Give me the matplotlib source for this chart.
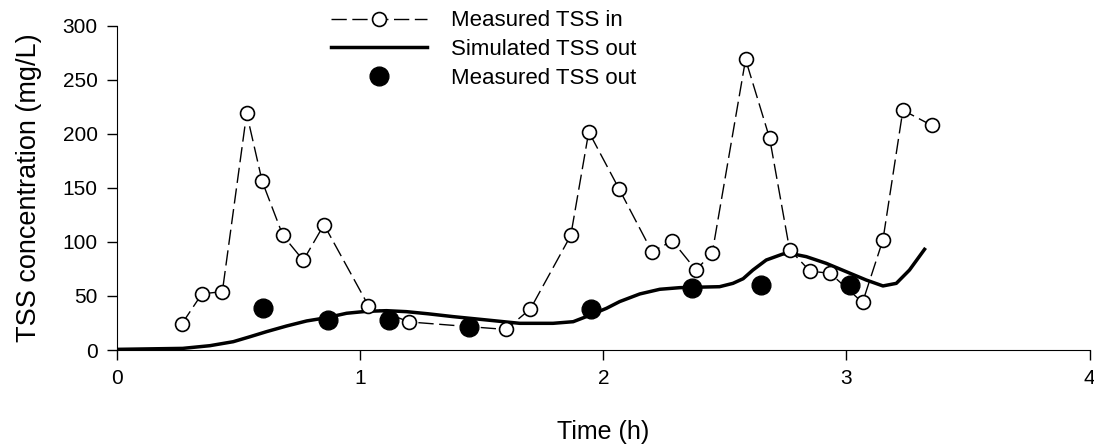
import matplotlib
matplotlib.use("Agg")
import matplotlib.pyplot as plt

plt.rcParams["font.family"] = ["Liberation Sans", "DejaVu Sans"]

# measured influent TSS
t_in = [0.266, 0.349, 0.433, 0.533, 0.597, 0.682, 0.766, 0.851, 1.034, 1.20,
        1.599, 1.70, 1.866, 1.94, 2.065, 2.20, 2.284, 2.381, 2.448, 2.585,
        2.684, 2.766, 2.85, 2.933, 3.066, 3.15, 3.232, 3.35]
tss_in = [24, 52, 54, 219, 156, 106, 83, 116, 41, 26,
          19, 38, 106, 202, 149, 91, 101, 74, 90, 269,
          196, 93, 73, 71, 44, 102, 222, 208]

# simulated effluent TSS
t_sim = [0.0, 0.27, 0.382, 0.478, 0.547, 0.615, 0.697, 0.78, 0.862, 0.944,
         1.026, 1.108, 1.19, 1.28, 1.382, 1.52, 1.656, 1.793, 1.876, 1.93,
         2.013, 2.067, 2.15, 2.232, 2.314, 2.40, 2.478, 2.533, 2.575, 2.615,
         2.67, 2.739, 2.78, 2.835, 2.917, 2.999, 3.081, 3.15, 3.205, 3.259,
         3.321]
tss_sim = [0.6, 1.5, 4, 7.7, 12.3, 17, 22.2, 26.9, 29.9, 34,
           35.8, 36.4, 35.5, 33.5, 30.9, 27.8, 24.7, 24.7, 26.2, 30.9,
           38.6, 44.8, 51.9, 56.2, 57.7, 58.2, 58.6, 61.7, 66, 74,
           83.3, 88.9, 88.9, 86.4, 80.2, 72.5, 64.8, 59.3, 61.7, 74,
           93.2]

# measured effluent TSS
t_out = [0.60, 0.867, 1.117, 1.448, 1.949, 2.366, 2.647, 3.015]
tss_out = [39, 28, 28, 21, 38, 57, 60, 60]

fig = plt.figure(figsize=(10.94, 4.47), dpi=100)
ax = fig.add_axes([0.107, 0.217, 0.889, 0.725])

ax.plot(t_in, tss_in, color="black", linewidth=1, dashes=(11, 4),
        marker="o", markersize=10, markerfacecolor="white",
        markeredgecolor="black", markeredgewidth=1.2, label="Measured TSS in",
        zorder=3)
ax.plot(t_sim, tss_sim, color="black", linewidth=2.5,
        solid_joinstyle="round", label="Simulated TSS out", zorder=2)
ax.plot(t_out, tss_out, linestyle="none", marker="o", markersize=13.5,
        color="black", label="Measured TSS out", zorder=4)

ax.set_xlim(0, 4)
ax.set_ylim(0, 300)
ax.set_xticks([0, 1, 2, 3, 4])
ax.set_yticks([0, 50, 100, 150, 200, 250, 300])
ax.spines["top"].set_visible(False)
ax.spines["right"].set_visible(False)
ax.tick_params(direction="out", length=7, width=1, labelsize=15, pad=7)
ax.set_xlabel("Time (h)", fontsize=18, labelpad=23)
ax.set_ylabel("TSS concentration (mg/L)", fontsize=19.5, labelpad=15)

ax.legend(loc="upper left", bbox_to_anchor=(0.303, 0.977),
          bbox_transform=fig.transFigure, frameon=False,
          fontsize=16, handlelength=4.3, labelspacing=0.35, handletextpad=1.1,
          borderpad=0, borderaxespad=0)

fig.savefig("out.png", dpi=100)
